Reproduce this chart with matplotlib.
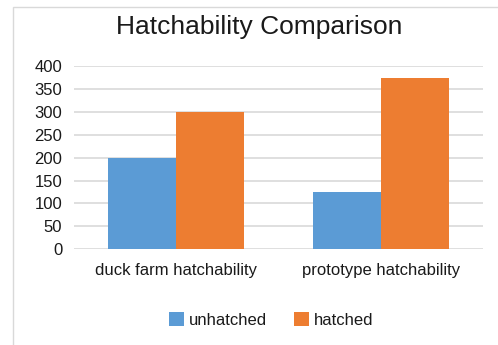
import matplotlib
matplotlib.use("Agg")
import matplotlib.pyplot as plt
from matplotlib.patches import Rectangle
import numpy as np

plt.rcParams['font.family'] = ['Liberation Sans', 'DejaVu Sans']

# data
categories = ["duck farm hatchability", "prototype hatchability"]
series_names = ["unhatched", "hatched"]
unhatched = [200, 126]
hatched = [300, 373]
yticks = [0, 50, 100, 150, 200, 250, 300, 350, 400]

blue = "#5B9BD5"
orange = "#ED7D31"
txt = "#1a1a1a"

fig = plt.figure(figsize=(4.98, 3.45), dpi=100)
fig.patch.set_facecolor("white")

# chart frame (cropped on right/bottom in the reference)
fig.patches.append(Rectangle((12.5/498, -0.1), 1.2, 1.1 - 7/345,
                             transform=fig.transFigure, fill=False,
                             edgecolor="#d9d9d9", lw=1.0))

ax = fig.add_axes([74/498, 0.2774, 409/498, 0.8087 - 0.2774])
x = np.arange(len(categories))
w = 0.3325
ax.bar(x - w/2, unhatched, w, color=blue, label=series_names[0], zorder=3)
ax.bar(x + w/2, hatched, w, color=orange, label=series_names[1], zorder=3)

ax.set_xlim(-0.5, 1.5)
ax.set_ylim(0, 400)
ax.set_yticks(yticks)
ax.yaxis.grid(True, color="#d9d9d9", lw=1.2, zorder=0)
for s in ax.spines.values():
    s.set_visible(False)
ax.tick_params(axis="both", length=0, labelsize=12, colors=txt)
ax.tick_params(axis="y", pad=8.5)
ax.tick_params(axis="x", pad=10)
ax.set_xticks(x)
ax.set_xticklabels(categories)

fig.text(259/498, 1 - 27/345, "Hatchability Comparison", ha="center", va="center",
         fontsize=19, color=txt)

fig.legend(loc="center", bbox_to_anchor=(271/498, 1 - 320/345), ncol=2, frameon=False,
           fontsize=12, handlelength=0.9, handleheight=0.9, handletextpad=0.3,
           columnspacing=1.6, labelcolor=txt)

fig.savefig("out.png", dpi=100)
